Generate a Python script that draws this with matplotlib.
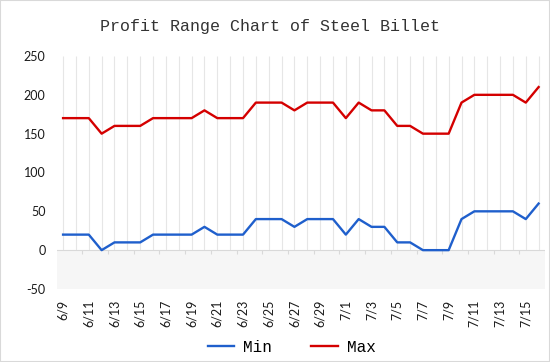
import matplotlib
matplotlib.use("Agg")
import numpy as np
import matplotlib.pyplot as plt
from matplotlib.patches import Rectangle

# dates 6/9 .. 7/16
dates = ["6/%d" % d for d in range(9, 31)] + ["7/%d" % d for d in range(1, 17)]

max_vals = [170, 170, 170, 150, 160, 160, 160, 170, 170, 170, 170, 180, 170, 170, 170,
            190, 190, 190, 180, 190, 190, 190,
            170, 190, 180, 180, 160, 160, 150, 150, 150, 190, 200, 200, 200, 200, 190, 210]
min_vals = [20, 20, 20, 0, 10, 10, 10, 20, 20, 20, 20, 30, 20, 20, 20,
            40, 40, 40, 30, 40, 40, 40,
            20, 40, 30, 30, 10, 10, 0, 0, 0, 40, 50, 50, 50, 50, 40, 60]

yticks = [-50, 0, 50, 100, 150, 200, 250]

blue = "#1f5fcc"
red = "#d40000"
mono = "Liberation Mono"
num_font = "Lato"

fig = plt.figure(figsize=(5.5, 3.62), dpi=100)
fig.patch.set_facecolor("white")
ax = fig.add_axes([0.103, 0.2017, 0.888, 0.6436])

x = np.arange(len(dates))

# grey band below zero
ax.axhspan(-50, 0, color="#f6f6f6", lw=0, zorder=0)
# vertical grid lines above zero
ax.vlines(x, 0, 250, color="#e6e6e6", lw=0.8, zorder=1)
# zero line with little ticks
ax.axhline(0, color="#d9d9d9", lw=0.8, zorder=1)
ax.vlines(np.arange(1.5, len(dates), 2), -5, 0, color="#d9d9d9", lw=0.8, zorder=1)

l1, = ax.plot(x, min_vals, color=blue, lw=1.7, label="Min", zorder=3)
l2, = ax.plot(x, max_vals, color=red, lw=1.7, label="Max", zorder=3)

ax.set_xlim(-0.5, len(dates) - 0.5)
ax.set_ylim(-50, 250)
ax.set_yticks(yticks)
ax.set_yticklabels([str(v) for v in yticks], fontname=num_font, fontsize=9, color="#1a1a1a")
ax.set_xticks(x[::2])
ax.set_xticklabels(dates[::2], rotation=90, fontname=num_font, fontsize=9, color="#1a1a1a")
ax.tick_params(axis="y", length=0, pad=8)
ax.tick_params(axis="x", length=0, pad=8)
for s in ax.spines.values():
    s.set_visible(False)

fig.text(0.49, 0.926, "Profit Range Chart of Steel Billet", ha="center", va="center",
         fontname=mono, fontsize=12, color="#333333")

fig.legend(handles=[l1, l2], loc="center", bbox_to_anchor=(0.53, 0.041), ncol=2,
           frameon=False, handlelength=1.65, handletextpad=0.55, columnspacing=2.5,
           prop={"family": mono, "size": 11.5})

fig.patches.append(Rectangle((0, 0), 1, 1, transform=fig.transFigure, fill=False,
                             edgecolor="#d9d9d9", lw=1.5))

fig.savefig("out.png", dpi=100)
